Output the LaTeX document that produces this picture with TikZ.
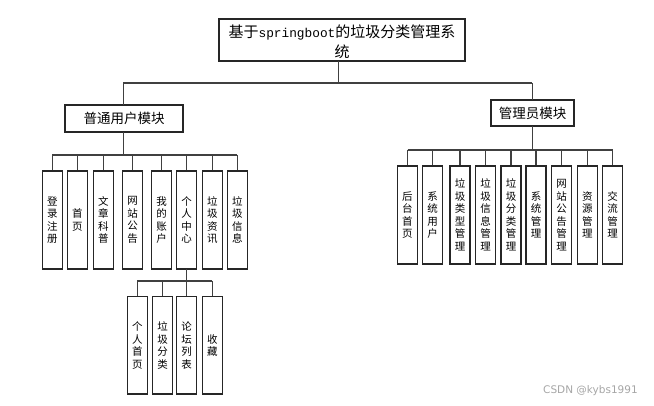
\documentclass[tikz,border=0pt]{standalone}
\usepackage{fontspec}
\setmainfont{Noto Sans CJK SC}
\newfontfamily\cjk{Noto Sans CJK SC}
\newfontfamily\monof{Liberation Mono}
\newfontfamily\wmfont{DejaVu Sans}
\begin{document}
\begin{tikzpicture}[x=1pt,y=-1pt,
  conn/.style={draw=black!75,line width=1.2pt},
  bx/.style={draw=black!85,line width=1.1pt,fill=white},
  leaf/.style={font=\cjk\fontsize{10.5}{12.5}\selectfont,align=center,inner sep=0pt}]
\useasboundingbox (0,0) rectangle (654,406);
% title
\draw[bx] (219,19) rectangle (465,61);
\node[inner sep=0pt,font=\cjk\fontsize{15}{20}\selectfont] (title) at (342,32) {基于{\monof\fontsize{12.8}{20}\selectfont springboot}的垃圾分类管理系};
\node[inner sep=0pt,font=\cjk\fontsize{15}{20}\selectfont] (title2) at (342,52) {统};
\coordinate (tb) at (338.3,61);
\coordinate (mb) at (338.3,83);
\coordinate (lb) at (123.3,83);
\coordinate (rb) at (532.3,83);
\draw[conn] (tb) -- (mb);
\draw[conn] (lb) -- (rb);
% left module
\draw[bx] (65,105) rectangle (183,132);
\node[inner sep=0pt,font=\cjk\fontsize{13.5}{16}\selectfont] (lm) at (124,118.5) {普通用户模块};
\draw[conn] (lb) -- (123.3,105);
% right module
\draw[bx] (491,100) rectangle (574,126);
\node[inner sep=0pt,font=\cjk\fontsize{13.5}{16}\selectfont] (rm) at (532.5,113) {管理员模块};
\draw[conn] (rb) -- (532.3,100);
% left children
\draw[conn] (123.3,132) -- (123.3,155);
\draw[conn] (52.3,155) -- (237.3,155);
\foreach \cx/\t [count=\i] in {52.3/{登\\录\\注\\册},77.3/{首\\页},103.3/{文\\章\\科\\普},132.7/{网\\站\\公\\告},161.7/{我\\的\\账\\户},186.7/{个\\人\\中\\心},212.3/{垃\\圾\\资\\讯},237.3/{垃\\圾\\信\\息}}{
  \draw[conn] (\cx,155) -- (\cx,171);
  \draw[bx] (\cx-10,171) rectangle (\cx+10,269);
  \node[leaf] (l\i) at (\cx,220) {\t};
}
% sub children
\draw[conn] (186.7,269) -- (186.7,281);
\draw[conn] (137.3,281) -- (211.7,281);
\foreach \cx/\t [count=\i] in {137.3/{个\\人\\首\\页},162.7/{垃\\圾\\分\\类},186.7/{论\\坛\\列\\表},212.3/{收\\藏}}{
  \draw[conn] (\cx,281) -- (\cx,296.7);
  \draw[bx] (\cx-10,296.7) rectangle (\cx+10,394);
  \node[leaf] (s\i) at (\cx,345.3) {\t};
}
% right children
\draw[conn] (532.3,126) -- (532.3,150);
\draw[conn] (407.5,150) -- (612.5,150);
\foreach \cx/\t [count=\i] in {407.3/{后\\台\\首\\页},432.7/{系\\统\\用\\户},460/{垃\\圾\\类\\型\\管\\理},485.7/{垃\\圾\\信\\息\\管\\理},511/{垃\\圾\\分\\类\\管\\理},536/{系\\统\\管\\理},561.7/{网\\站\\公\\告\\管\\理},587.3/{资\\源\\管\\理},612.7/{交\\流\\管\\理}}{
  \draw[conn] (\cx,150) -- (\cx,166);
  \draw[bx] (\cx-10,166) rectangle (\cx+10,264);
  \node[leaf] (r\i) at (\cx,215) {\t};
}
% watermark
\node[inner sep=0pt,anchor=west,text=black!35,font=\wmfont\fontsize{10.5}{12}\selectfont] (wm) at (543,391) {CSDN @kybs1991};
\end{tikzpicture}
\end{document}
